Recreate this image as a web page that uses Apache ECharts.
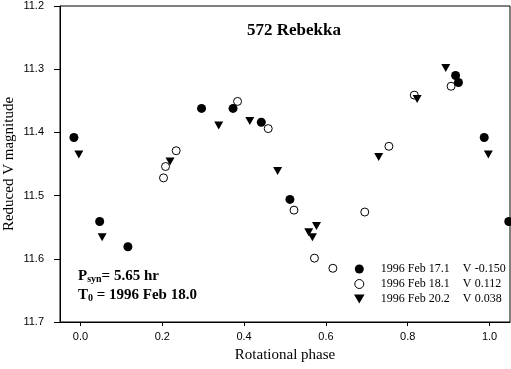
<!DOCTYPE html>
<html>
<head>
<meta charset="utf-8">
<script src="https://cdn.jsdelivr.net/npm/echarts@6/dist/echarts.min.js"></script>
<style>
html,body{margin:0;padding:0;background:#fff;}
#chart{width:511px;height:369px;}
</style>
</head>
<body>
<div id="chart"></div>
<script>
// phase / reduced magnitude, one pair of arrays per night
var phase171 = [-0.016, 0.047, 0.116, 0.296, 0.373, 0.442, 0.512, 0.917, 0.924, 0.987, 1.047];
var mag171   = [11.408, 11.541, 11.581, 11.362, 11.362, 11.384, 11.506, 11.310, 11.321, 11.408, 11.541];

var phase181 = [0.203, 0.208, 0.234, 0.384, 0.459, 0.522, 0.572, 0.617, 0.695, 0.754, 0.816, 0.906];
var mag181   = [11.472, 11.454, 11.429, 11.351, 11.394, 11.523, 11.599, 11.615, 11.526, 11.422, 11.341, 11.327];

var phase202 = [-0.004, 0.053, 0.219, 0.338, 0.414, 0.482, 0.558, 0.567, 0.577, 0.729, 0.823, 0.893, 0.997];
var mag202   = [11.435, 11.566, 11.446, 11.389, 11.382, 11.461, 11.558, 11.566, 11.548, 11.439, 11.347, 11.298, 11.435];

var nights  = ['1996 Feb 17.1', '1996 Feb 18.1', '1996 Feb 20.2'];
var offsets = ['-0.150', '0.112', '0.038'];
var xTicks  = [0, 0.2, 0.4, 0.6, 0.8, 1.0];

function pairs(xs, ys) {
    return xs.map(function (x, i) { return [x, ys[i]]; });
}

var chart = echarts.init(document.getElementById('chart'));
var serif = 'Liberation Serif';
var sans = 'Liberation Sans';
var tri = 'path://M0,0L10,0L5,8.5Z';

option = {
    animation: false,
    title: {
        text: '572 Rebekka',
        left: 242,
        top: 17,
        textStyle: {fontFamily: serif, fontWeight: 'bold', fontSize: 17, color: '#000'}
    },
    grid: {
        left: 60, right: 1, top: 6, bottom: 47,
        outerBoundsMode: 'none', containLabel: false,
        show: true, borderColor: '#000', borderWidth: 1
    },
    legend: {
        orient: 'vertical',
        left: 349,
        top: 258,
        itemWidth: 33,
        itemHeight: 9,
        itemGap: 3,
        data: [
            {name: nights[0]},
            {name: nights[1], itemStyle: {borderWidth: 1}},
            {name: nights[2]}
        ],
        formatter: function (name) {
            return '{a|' + name + '}{b|V}{c|' + offsets[nights.indexOf(name)] + '}';
        },
        textStyle: {
            fontFamily: serif, fontSize: 12, color: '#000', lineHeight: 12,
            rich: {
                a: {fontFamily: serif, fontSize: 12, color: '#000', width: 82},
                b: {fontFamily: serif, fontSize: 12, color: '#000', width: 12},
                c: {fontFamily: serif, fontSize: 12, color: '#000'}
            }
        }
    },
    xAxis: {
        type: 'value',
        min: -0.05,
        max: 1.05,
        name: 'Rotational phase',
        nameLocation: 'middle',
        nameGap: 26,
        nameTextStyle: {fontFamily: serif, fontSize: 15, color: '#000'},
        axisLine: {show: true, onZero: false, lineStyle: {color: '#000', width: 1}},
        axisTick: {show: true, length: 4, lineStyle: {color: '#000'}, customValues: xTicks},
        axisLabel: {
            color: '#000', fontFamily: sans, fontSize: 11, margin: 9,
            customValues: xTicks,
            formatter: function (v) { return v.toFixed(1); }
        },
        splitLine: {show: false}
    },
    yAxis: {
        type: 'value',
        inverse: true,
        min: 11.2,
        max: 11.7,
        interval: 0.1,
        axisLine: {show: true, onZero: false, lineStyle: {color: '#000', width: 1}},
        axisTick: {show: true, length: 6, lineStyle: {color: '#000'}},
        axisLabel: {
            color: '#000', fontFamily: sans, fontSize: 11, margin: 16,
            formatter: function (v) { return v.toFixed(1); }
        },
        splitLine: {show: false}
    },
    graphic: [
        {
            // y axis title, placed by hand
            type: 'text',
            x: 9,
            y: 164,
            rotation: Math.PI / 2,
            style: {
                text: 'Reduced V magnitude',
                fontFamily: serif, fontSize: 15, fill: '#000',
                align: 'center', verticalAlign: 'middle'
            }
        },
        {
            type: 'text',
            left: 78,
            top: 268,
            style: {
                text: '{p|P}{s|syn}{p|= 5.65 hr}\n{p|T}{s|0}{p| = 1996 Feb 18.0}',
                rich: {
                    p: {fontFamily: serif, fontWeight: 'bold', fontSize: 15, lineHeight: 19, fill: '#000', verticalAlign: 'bottom'},
                    s: {fontFamily: serif, fontWeight: 'bold', fontSize: 10, lineHeight: 10, padding: [6, 0, 0, 0], fill: '#000', verticalAlign: 'bottom'}
                }
            }
        }
    ],
    series: [
        {
            name: nights[1],
            type: 'scatter',
            symbol: 'circle',
            symbolSize: 8,
            itemStyle: {color: '#fff', borderColor: '#000', borderWidth: 1, opacity: 1},
            data: pairs(phase181, mag181),
            z: 2
        },
        {
            name: nights[0],
            type: 'scatter',
            symbol: 'circle',
            symbolSize: 9,
            itemStyle: {color: '#000', opacity: 1},
            data: pairs(phase171, mag171),
            z: 3
        },
        {
            name: nights[2],
            type: 'scatter',
            symbol: tri,
            symbolSize: [9, 8],
            itemStyle: {color: '#000', opacity: 1},
            data: pairs(phase202, mag202),
            z: 4
        }
    ]
};
chart.setOption(option);
window.addEventListener('resize', function () {
    chart.resize();
});
</script>
</body>
</html>
